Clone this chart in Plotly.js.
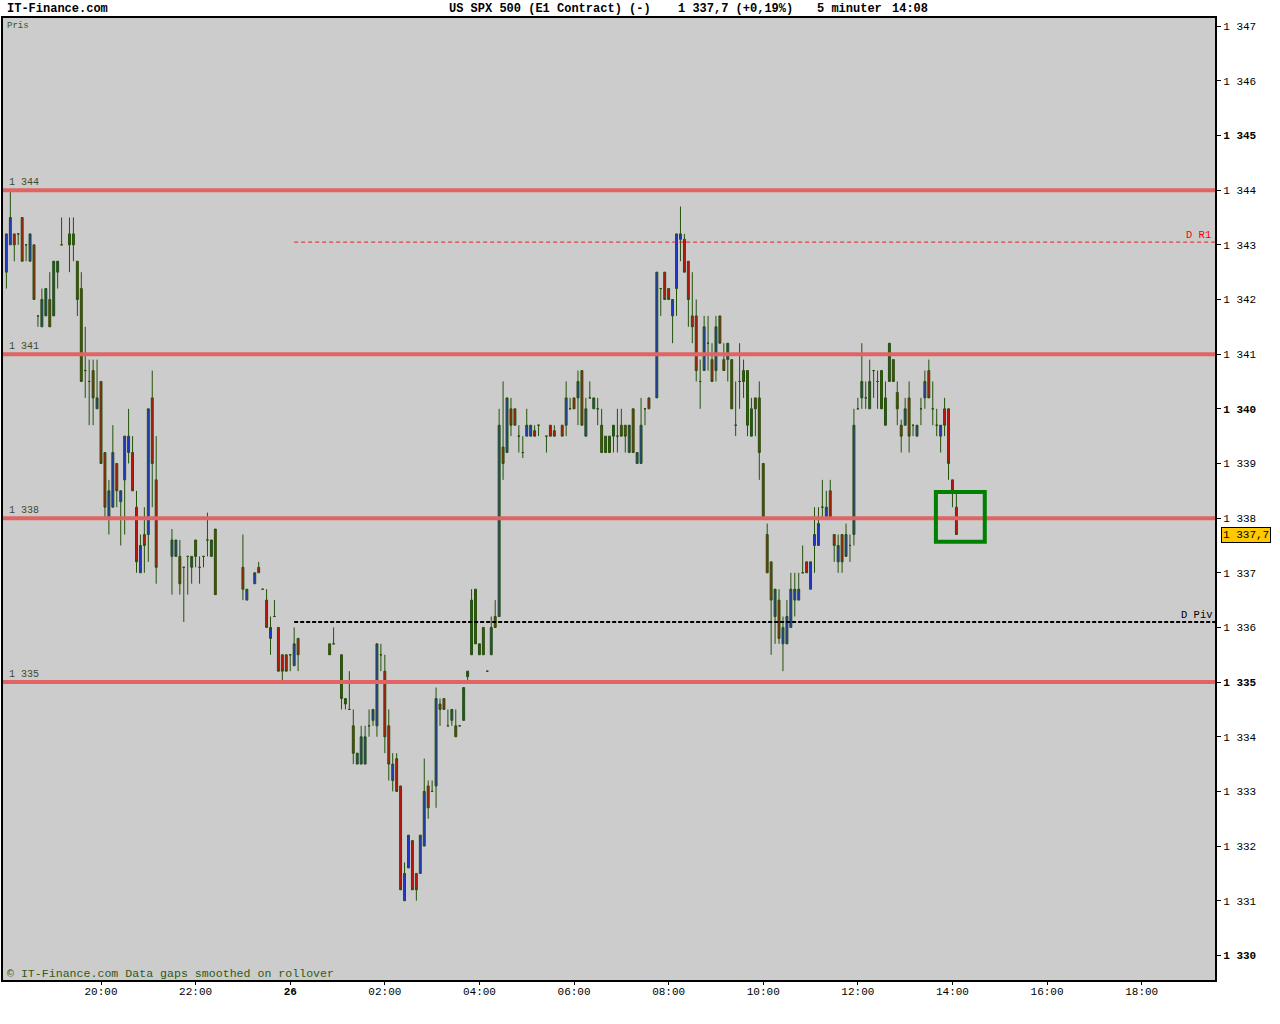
<!DOCTYPE html>
<html>
<head>
<meta charset="utf-8">
<title>US SPX 500 - 5 minuter</title>
<script src="https://cdn.plot.ly/plotly-3.0.1.min.js"></script>
<style>
    html, body { margin: 0; padding: 0; background: #ffffff; overflow: hidden; }
    #chart { width: 1280px; height: 1024px; }
</style>
</head>
<body>
<div id="chart"></div>
<script>
/**
 * US SPX 500 (E1) 5-minute candle chart, IT-Finance style
 */

// 5-minute bars from 25th 18:00 (slot 0) to 26th 14:05 (slot 241); null = no data
const openP = [
    1342.5, 1343.0, 1343.2, 1343.2, 1343.5, 1343.0, 1342.7, 1343.0, 1341.7, 1341.5,
    1341.7, 1342.0, 1341.7, 1342.5, 1343.0, null, 1343.2, 1343.2, 1342.7, 1342.2,
    1340.7, 1340.5, 1340.7, 1340.0, 1340.5, 1339.2, 1338.0, 1338.2, 1339.0, 1338.3,
    1338.7, 1339.2, 1339.2, 1338.2, 1337.0, 1337.7, 1337.7, 1340.2, 1338.7, null,
    null, null, 1337.3, 1337.3, 1337.3, 1337.1, 1337.3, 1337.1, 1337.6, 1337.1,
    1337.3, 1337.6, 1337.3, 1337.8, null, null, null, null, null, null,
    1337.1, 1336.5, null, 1336.8, 1337.1, 1336.7, 1336.5, 1335.8, 1336.2, 1336.0,
    1335.5, 1335.5, 1335.5, 1335.3, 1335.8, null, null, null, null, null,
    null, null, 1335.7, 1335.7, null, 1335.5, 1334.6, 1334.5, 1334.2, 1333.5,
    1333.5, 1333.5, 1334.2, 1334.3, 1334.2, 1335.5, 1335.2, 1334.2, 1333.2, 1333.6,
    1333.1, 1331.0, 1331.6, 1332.1, 1331.5, 1331.5, 1332.0, 1333.1, 1333.0, 1333.1,
    1334.6, 1334.7, 1334.2, 1334.3, 1334.2, 1334.2, 1334.3, 1335.1, 1335.5, 1336.7,
    1335.5, 1336.0, 1335.2, 1335.5, 1336.2, 1336.2, 1339.3, 1339.2, 1340.0, 1340.0,
    1339.5, 1339.2, 1339.5, 1339.5, 1339.6, 1339.7, null, 1339.5, 1339.7, 1339.6,
    null, 1339.7, 1339.7, 1340.0, 1340.2, 1340.2, 1340.7, 1339.5, 1340.2, 1340.0,
    1340.0, 1339.7, 1339.5, 1339.5, 1339.5, 1339.5, 1339.7, 1339.7, 1339.2, 1340.0,
    1339.0, 1339.0, 1340.0, 1340.2, null, 1340.2, 1342.2, 1342.5, 1342.2, 1341.7,
    1342.2, 1343.1, 1343.1, 1342.7, 1341.7, 1341.7, 1340.5, 1340.7, 1341.2, 1340.9,
    1340.7, 1341.7, 1340.9, 1340.9, 1340.9, 1339.7, 1340.5, 1340.7, 1340.7, 1339.5,
    1340.2, 1340.2, 1339.0, 1337.7, 1337.2, 1336.2, 1336.5, 1335.7, 1335.7, 1336.0,
    1336.5, 1336.5, 1337.0, 1337.2, 1336.7, 1337.5, 1337.5, 1338.2, 1338.0, 1338.5,
    1337.7, 1337.2, 1337.7, 1337.3, 1337.5, 1337.7, 1340.0, 1340.2, 1340.2, 1340.0,
    1340.7, 1340.5, 1340.7, 1339.7, 1340.5, 1340.9, 1340.3, 1339.7, 1339.7, 1340.2,
    1339.7, 1339.5, 1340.0, 1340.2, 1340.7, 1340.0, 1339.7, 1339.5, 1340.0, 1340.0,
    1338.7, 1338.2
];

const highP = [
    1343.2, 1344.0, 1343.2, 1343.2, 1343.5, 1343.0, 1343.2, 1343.0, 1341.7, 1342.2,
    1342.2, 1342.5, 1342.7, 1342.7, 1343.5, null, 1343.5, 1343.5, 1342.7, 1342.5,
    1341.5, 1340.9, 1340.9, 1340.9, 1340.5, 1339.2, 1338.7, 1339.7, 1339.0, 1338.5,
    1339.5, 1340.0, 1339.5, 1338.5, 1337.7, 1338.2, 1340.0, 1340.7, 1339.5, null,
    null, null, 1337.8, 1337.6, 1337.6, 1337.1, 1337.3, 1337.3, 1337.6, 1337.3,
    1337.3, 1338.1, 1337.6, 1337.8, null, null, null, null, null, null,
    1337.7, 1336.7, null, 1337.0, 1337.2, 1336.7, 1336.7, 1336.2, 1336.5, 1336.0,
    1335.5, 1335.5, 1335.5, 1336.0, 1335.8, null, null, null, null, null,
    null, null, 1335.7, 1336.0, null, 1335.5, 1334.7, 1335.2, 1334.5, 1333.7,
    1334.2, 1334.2, 1334.5, 1334.5, 1335.7, 1335.7, 1335.5, 1334.5, 1333.7, 1333.7,
    1333.1, 1331.7, 1332.2, 1332.1, 1331.5, 1332.2, 1333.6, 1333.2, 1333.2, 1334.9,
    1334.7, 1334.7, 1334.5, 1334.5, 1334.5, 1334.2, 1334.9, 1335.2, 1336.7, 1336.7,
    1335.7, 1336.0, 1335.2, 1336.2, 1336.5, 1340.0, 1340.5, 1340.2, 1340.2, 1340.0,
    1339.7, 1339.5, 1340.0, 1339.7, 1339.7, 1339.7, null, 1339.5, 1339.7, 1339.7,
    null, 1339.7, 1340.5, 1340.2, 1340.2, 1340.7, 1340.7, 1340.2, 1340.5, 1340.2,
    1340.2, 1340.0, 1339.5, 1339.5, 1339.7, 1340.0, 1340.0, 1339.7, 1339.7, 1340.0,
    1339.2, 1340.2, 1340.0, 1340.2, null, 1342.5, 1342.2, 1342.5, 1342.2, 1342.0,
    1343.2, 1343.7, 1343.2, 1342.7, 1342.5, 1342.0, 1340.9, 1341.7, 1341.7, 1341.2,
    1341.7, 1341.7, 1341.2, 1341.2, 1340.9, 1340.5, 1341.2, 1340.9, 1340.7, 1340.2,
    1340.2, 1340.5, 1339.0, 1337.9, 1337.2, 1336.7, 1336.7, 1336.2, 1336.5, 1337.0,
    1337.0, 1337.0, 1337.5, 1337.2, 1337.2, 1338.2, 1338.2, 1338.7, 1338.5, 1338.7,
    1337.7, 1337.7, 1337.7, 1337.9, 1337.7, 1340.0, 1340.2, 1341.2, 1340.5, 1340.9,
    1340.7, 1340.7, 1340.7, 1340.5, 1341.2, 1340.9, 1340.5, 1339.8, 1340.2, 1340.5,
    1339.7, 1339.7, 1340.2, 1340.7, 1340.9, 1340.5, 1340.0, 1339.7, 1340.2, 1340.0,
    1338.7, 1338.5
];

const lowP = [
    1342.2, 1343.0, 1342.7, 1343.0, 1342.7, 1342.7, 1342.7, 1342.0, 1341.5, 1341.5,
    1341.7, 1341.5, 1341.7, 1342.2, 1343.0, null, 1342.5, 1342.7, 1341.7, 1340.5,
    1340.2, 1339.7, 1339.7, 1340.0, 1339.0, 1338.0, 1337.7, 1338.2, 1338.2, 1337.5,
    1337.7, 1339.0, 1338.5, 1337.0, 1337.0, 1337.0, 1337.2, 1338.2, 1336.8, null,
    null, null, 1336.6, 1337.3, 1336.6, 1336.1, 1336.6, 1336.8, 1337.1, 1336.8,
    1337.1, 1337.3, 1337.3, 1336.6, null, null, null, null, null, null,
    1336.5, 1336.5, null, 1336.8, 1337.0, 1336.7, 1336.0, 1335.5, 1336.2, 1335.2,
    1335.0, 1335.2, 1335.2, 1335.3, 1335.2, null, null, null, null, null,
    null, null, 1335.5, 1335.7, null, 1334.5, 1334.5, 1334.5, 1333.5, 1333.5,
    1333.5, 1333.5, 1334.0, 1334.2, 1334.0, 1335.2, 1333.7, 1333.2, 1333.0, 1333.0,
    1331.2, 1331.0, 1331.6, 1331.2, 1331.0, 1331.5, 1332.0, 1332.5, 1333.0, 1332.7,
    1334.2, 1334.5, 1334.2, 1334.2, 1334.0, 1334.2, 1334.3, 1335.0, 1335.5, 1335.7,
    1335.5, 1335.5, 1335.2, 1335.5, 1336.0, 1336.2, 1338.7, 1339.2, 1339.5, 1339.7,
    1339.2, 1339.1, 1339.5, 1339.5, 1339.5, 1339.5, null, 1339.2, 1339.5, 1339.5,
    null, 1339.5, 1339.5, 1340.0, 1340.0, 1339.7, 1339.7, 1339.5, 1340.2, 1340.0,
    1339.7, 1339.2, 1339.2, 1339.2, 1339.2, 1339.2, 1339.5, 1339.2, 1339.2, 1339.2,
    1339.0, 1339.0, 1339.7, 1340.0, null, 1340.2, 1341.7, 1342.0, 1342.0, 1341.2,
    1341.7, 1342.7, 1342.5, 1341.5, 1341.2, 1340.5, 1340.0, 1340.7, 1340.7, 1340.5,
    1340.5, 1341.2, 1340.7, 1340.5, 1340.0, 1339.5, 1340.0, 1340.2, 1339.5, 1339.5,
    1339.5, 1338.7, 1338.0, 1337.0, 1335.5, 1335.7, 1335.7, 1335.2, 1335.7, 1336.0,
    1336.2, 1336.5, 1337.0, 1337.0, 1336.7, 1337.0, 1337.5, 1338.0, 1338.0, 1338.0,
    1337.2, 1337.0, 1337.0, 1337.3, 1337.2, 1337.5, 1340.0, 1340.0, 1340.0, 1340.0,
    1340.2, 1340.0, 1340.0, 1339.7, 1340.5, 1340.5, 1339.7, 1339.2, 1339.7, 1339.2,
    1339.5, 1339.5, 1339.7, 1340.0, 1340.2, 1339.7, 1339.5, 1339.2, 1339.5, 1338.7,
    1338.2, 1337.7
];

const closeP = [
    1343.2, 1343.5, 1343.0, 1343.2, 1342.7, 1343.0, 1343.2, 1342.0, 1341.7, 1342.0,
    1342.2, 1341.5, 1342.7, 1342.7, 1343.0, null, 1343.0, 1343.0, 1342.0, 1340.5,
    1340.7, 1340.5, 1340.2, 1340.2, 1339.0, 1338.2, 1338.5, 1339.2, 1338.5, 1338.5,
    1339.5, 1339.5, 1338.5, 1337.2, 1337.5, 1337.5, 1340.0, 1339.0, 1337.1, null,
    null, null, 1337.6, 1337.6, 1336.8, 1337.1, 1337.3, 1337.3, 1337.3, 1337.1,
    1337.3, 1337.6, 1337.6, 1336.6, null, null, null, null, null, null,
    1336.7, 1336.7, null, 1337.0, 1337.0, 1336.7, 1336.0, 1336.0, 1336.2, 1335.2,
    1335.2, 1335.2, 1335.5, 1335.7, 1335.5, null, null, null, null, null,
    null, null, 1335.5, 1335.7, null, 1334.7, 1334.7, 1334.5, 1333.7, 1333.7,
    1334.0, 1334.0, 1334.2, 1334.5, 1335.7, 1335.5, 1334.0, 1333.5, 1333.5, 1333.0,
    1331.2, 1331.5, 1332.2, 1331.2, 1331.2, 1332.2, 1333.0, 1332.7, 1333.0, 1334.7,
    1334.5, 1334.5, 1334.2, 1334.5, 1334.0, 1334.2, 1334.9, 1335.2, 1336.5, 1335.7,
    1335.7, 1335.5, 1335.2, 1336.0, 1336.0, 1339.7, 1339.0, 1340.2, 1339.7, 1339.7,
    1339.5, 1339.2, 1339.7, 1339.7, 1339.5, 1339.7, null, 1339.5, 1339.5, 1339.5,
    null, 1339.5, 1340.2, 1340.0, 1340.0, 1340.5, 1339.7, 1340.0, 1340.2, 1340.2,
    1340.0, 1339.2, 1339.2, 1339.2, 1339.7, 1339.5, 1339.5, 1339.5, 1339.7, 1339.2,
    1339.2, 1339.7, 1340.0, 1340.0, null, 1342.5, 1342.2, 1342.0, 1342.0, 1342.0,
    1343.2, 1343.2, 1342.5, 1342.0, 1341.5, 1340.7, 1340.5, 1341.5, 1341.2, 1340.5,
    1341.5, 1341.2, 1340.7, 1341.2, 1340.0, 1339.7, 1340.5, 1340.5, 1339.7, 1340.0,
    1340.0, 1339.2, 1338.0, 1337.0, 1336.5, 1336.7, 1335.8, 1336.0, 1336.2, 1336.7,
    1336.7, 1336.7, 1337.0, 1337.0, 1337.2, 1337.7, 1337.9, 1338.2, 1338.2, 1338.0,
    1337.5, 1337.5, 1337.2, 1337.7, 1337.5, 1339.7, 1340.0, 1340.5, 1340.2, 1340.5,
    1340.7, 1340.5, 1340.0, 1340.2, 1341.2, 1340.5, 1340.0, 1339.5, 1340.0, 1339.5,
    1339.7, 1339.7, 1340.0, 1340.5, 1340.2, 1340.0, 1339.7, 1339.7, 1339.7, 1339.0,
    1338.5, 1337.7
];

// Horizontal support/resistance levels and daily pivots
const levelLines = [1344, 1341, 1338, 1335];
const levelLabels = ['1 344', '1 341', '1 338', '1 335'];
const pivotR1 = 1343.05;
const pivotP = 1336.1;
const lastPrice = 1337.7;

// Axis ticks
const priceTicks = [1330, 1331, 1332, 1333, 1334, 1335, 1336, 1337, 1338,
    1339, 1340, 1341, 1342, 1343, 1344, 1345, 1346, 1347];
const timeTicks = ['2012-01-25 20:00', '2012-01-25 22:00', '2012-01-26 00:00',
    '2012-01-26 02:00', '2012-01-26 04:00', '2012-01-26 06:00', '2012-01-26 08:00',
    '2012-01-26 10:00', '2012-01-26 12:00', '2012-01-26 14:00', '2012-01-26 16:00',
    '2012-01-26 18:00'];
const timeLabels = ['20:00', '22:00', '<b>26</b>', '02:00', '04:00', '06:00',
    '08:00', '10:00', '12:00', '14:00', '16:00', '18:00'];

(function() {
    'use strict';

    const FONT = 'Liberation Mono, DejaVu Sans Mono, monospace';
    const GREEN_TXT = '#2f5a10';

    // Build the 5-minute time stamps for each slot
    const startMs = Date.UTC(2012, 0, 25, 18, 0);
    function stamp(ms) {
        return new Date(ms).toISOString().slice(0, 19).replace('T', ' ');
    }
    const times = openP.map((_, i) => stamp(startMs + i * 5 * 60000));

    const xStart = '2012-01-25 17:55:41';
    const xEnd = '2012-01-26 19:33:00';

    const candles = {
        type: 'candlestick',
        x: times,
        open: openP,
        high: highP,
        low: lowP,
        close: closeP,
        whiskerwidth: 0,
        hoverinfo: 'skip',
        increasing: { line: { color: '#24520a', width: 1 }, fillcolor: '#2236dc' },
        decreasing: { line: { color: '#24520a', width: 1 }, fillcolor: '#cc1010' }
    };

    // Level lines across the full width
    const shapes = levelLines.map(lv => ({
        type: 'line', xref: 'paper', x0: 0, x1: 1, yref: 'y', y0: lv, y1: lv,
        line: { color: '#e06464', width: 4 }, layer: 'above'
    }));

    // Daily pivot lines start at the new session
    shapes.push({
        type: 'line', xref: 'x', x0: '2012-01-26 00:05', x1: xEnd,
        yref: 'y', y0: pivotR1, y1: pivotR1,
        line: { color: '#e02020', width: 1, dash: '4px,3px' }
    });
    shapes.push({
        type: 'line', xref: 'x', x0: '2012-01-26 00:05', x1: xEnd,
        yref: 'y', y0: pivotP, y1: pivotP,
        line: { color: '#000000', width: 2, dash: '4px,2px' }
    });

    // Highlight box around the last bars
    shapes.push({
        type: 'rect', xref: 'x', x0: '2012-01-26 13:39', x1: '2012-01-26 14:41',
        yref: 'y', y0: 1337.57, y1: 1338.48,
        line: { color: '#008000', width: 4 }, fillcolor: 'rgba(0,0,0,0)'
    });

    const annotations = [];

    function addText(text, x, y, opts) {
        annotations.push(Object.assign({
            text: text, x: x, y: y, xref: 'paper', yref: 'paper',
            showarrow: false, xanchor: 'left', yanchor: 'middle',
            font: { family: FONT, size: 12, color: '#000000' }
        }, opts || {}));
    }

    // Header line
    addText('<b>IT-Finance.com</b>', 0.002, 1.0094);
    addText('<b>US SPX 500 (E1 Contract) (-)</b>', 0.3665, 1.0094);
    addText('<b>1 337,7 (+0,19%)</b>', 0.5550, 1.0094);
    addText('<b>5 minuter</b>', 0.6700, 1.0094);
    addText('<b>14:08</b>', 0.7318, 1.0094);

    // Inside the plot
    addText('Pris', 0.002, 1, { yanchor: 'top', yshift: -1, font: { family: FONT, size: 9, color: GREEN_TXT } });
    addText('\u00a9 IT-Finance.com Data gaps smoothed on rollover', 0.002, 0.0065,
        { font: { family: FONT, size: 11.6, color: GREEN_TXT } });

    levelLines.forEach((lv, i) => {
        addText(levelLabels[i], 0.003, lv, {
            yref: 'y', yanchor: 'bottom', yshift: 0,
            font: { family: FONT, size: 10, color: '#3d4a30' }
        });
    });

    addText('D R1', 0.9985, pivotR1, {
        yref: 'y', xanchor: 'right', yanchor: 'bottom', yshift: -1,
        font: { family: FONT, size: 10.5, color: '#ff0000' }
    });
    addText('D Piv', 1.0, pivotP, {
        yref: 'y', xanchor: 'right', yanchor: 'bottom', yshift: -1,
        font: { family: FONT, size: 10.5, color: '#000000' }
    });

    // Last price tag on the price axis
    addText('1 337,7', 1.0049, lastPrice, {
        yref: 'y', bgcolor: '#ffc800', bordercolor: '#000000', borderwidth: 1, borderpad: 1,
        font: { family: FONT, size: 11, color: '#000000' }
    });

    const priceLabels = priceTicks.map(p => {
        const s = '1 ' + String(p).slice(1);
        return p % 5 === 0 ? '<b>' + s + '</b>' : s;
    });

    const layout = {
        width: 1280,
        height: 1024,
        margin: { l: 3, r: 65, t: 18, b: 44 },
        paper_bgcolor: '#ffffff',
        plot_bgcolor: '#cccccc',
        showlegend: false,
        font: { family: FONT, size: 11, color: '#000000' },
        xaxis: {
            type: 'date',
            range: [xStart, xEnd],
            tickvals: timeTicks,
            ticktext: timeLabels,
            ticks: 'outside', ticklen: 3, tickcolor: '#000000',
            ticklabelstandoff: -3,
            showline: true, linecolor: '#000000', linewidth: 2, mirror: true,
            showgrid: false, zeroline: false,
            tickfont: { family: FONT, size: 11, color: '#000000' },
            rangeslider: { visible: false },
            fixedrange: true
        },
        yaxis: {
            side: 'right',
            range: [1329.55, 1347.15],
            tickvals: priceTicks,
            ticktext: priceLabels,
            ticks: 'outside', ticklen: 4, tickcolor: '#000000',
            showline: true, linecolor: '#000000', linewidth: 2, mirror: true,
            showgrid: false, zeroline: false,
            tickfont: { family: FONT, size: 11, color: '#000000' },
            fixedrange: true
        },
        shapes: shapes,
        annotations: annotations
    };

    const config = { staticPlot: true, displayModeBar: false, responsive: false };

    try {
        Plotly.newPlot('chart', [candles], layout, config);
    } catch (error) {
        console.error('Error creating chart:', error);
    }
})();
</script>
</body>
</html>
